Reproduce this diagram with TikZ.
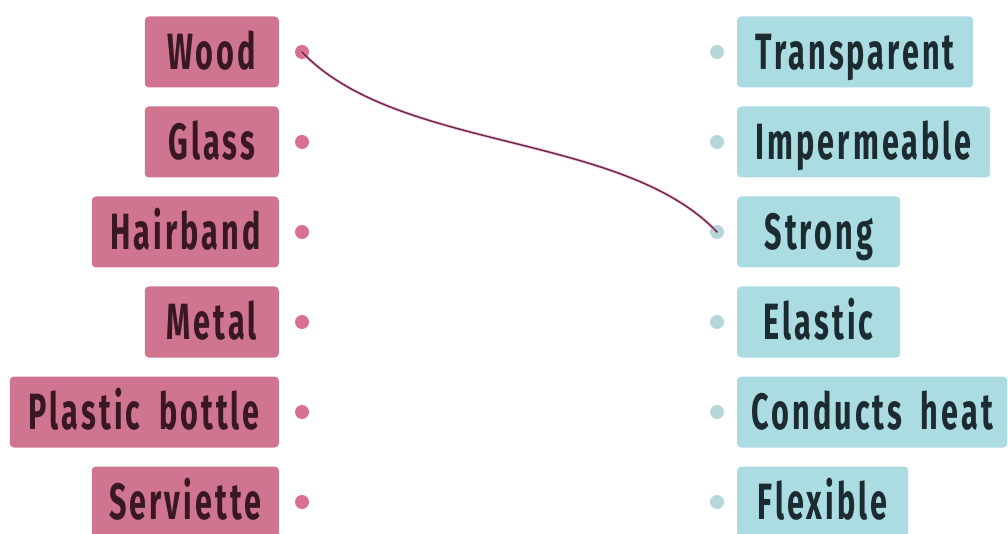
\documentclass[tikz,border=0pt]{standalone}
\usepackage{fontspec}
\newfontfamily\lblfont[FakeStretch=0.6,LetterSpace=6,WordSpace=1.8]{Fira Sans}
\definecolor{matpink}{HTML}{CF7590}
\definecolor{matink}{HTML}{3A1724}
\definecolor{proplue}{HTML}{AADCE1}
\definecolor{propink}{HTML}{1C2B30}
\definecolor{dotpink}{HTML}{D8718F}
\definecolor{dotblue}{HTML}{B6D6DA}
\definecolor{wirecol}{HTML}{6E2550}
\definecolor{wirehalo}{HTML}{F2A9C6}
\begin{document}
\begin{tikzpicture}[x=1pt,y=-1pt,
  label text/.style={font=\lblfont\bfseries\fontsize{51}{51}\selectfont,
    text height=35pt, text depth=0pt, inner sep=0pt,
    minimum height=71pt, rounded corners=4pt},
  material/.style={label text, fill=matpink, text=matink, anchor=east},
  property/.style={label text, fill=proplue, text=propink, anchor=west},
  ldot/.style={circle, fill=dotpink, inner sep=0pt, minimum size=14pt},
  rdot/.style={circle, fill=dotblue, inner sep=0pt, minimum size=14pt},
  wire/.style={line width=1.5pt, draw=wirecol, line cap=round},
  halo/.style={line width=3.4pt, draw=wirehalo, opacity=0.5, line cap=round}]
\useasboundingbox (0,0) rectangle (1008,534);

% materials
\node[material, minimum width=134pt] (l1) at (279,52)  {Wood};
\node[material, minimum width=134pt] (l2) at (279,142) {Glass};
\node[material, minimum width=187pt] (l3) at (279,232) {Hairband};
\node[material, minimum width=134pt] (l4) at (279,322) {Metal};
\node[material, minimum width=269pt] (l5) at (279,412) {Plastic bottle};
\node[material, minimum width=187pt] (l6) at (279,502) {Serviette};

\node[ldot] (ld1) at (302,52)  {};
\node[ldot] (ld2) at (302,142) {};
\node[ldot] (ld3) at (302,232) {};
\node[ldot] (ld4) at (302,322) {};
\node[ldot] (ld5) at (302,412) {};
\node[ldot] (ld6) at (302,502) {};

% properties
\node[property, minimum width=236pt] (r1) at (737,52)  {Transparent};
\node[property, minimum width=253pt] (r2) at (737,142) {Impermeable};
\node[property, minimum width=163pt] (r3) at (737,232) {Strong};
\node[property, minimum width=163pt] (r4) at (737,322) {Elastic};
\node[property, minimum width=270pt] (r5) at (737,412) {Conducts heat};
\node[property, minimum width=171pt] (r6) at (737,502) {Flexible};

\node[rdot] (rd1) at (717,52)  {};
\node[rdot] (rd2) at (717,142) {};
\node[rdot] (rd3) at (717,232) {};
\node[rdot] (rd4) at (717,322) {};
\node[rdot] (rd5) at (717,412) {};
\node[rdot] (rd6) at (717,502) {};

% the drawn match
\draw[halo] (ld1.center) .. controls +(95,100) and +(-95,-100) .. (rd3.center);
\draw[wire] (ld1.center) .. controls +(95,100) and +(-95,-100) .. (rd3.center);
\end{tikzpicture}
\end{document}
